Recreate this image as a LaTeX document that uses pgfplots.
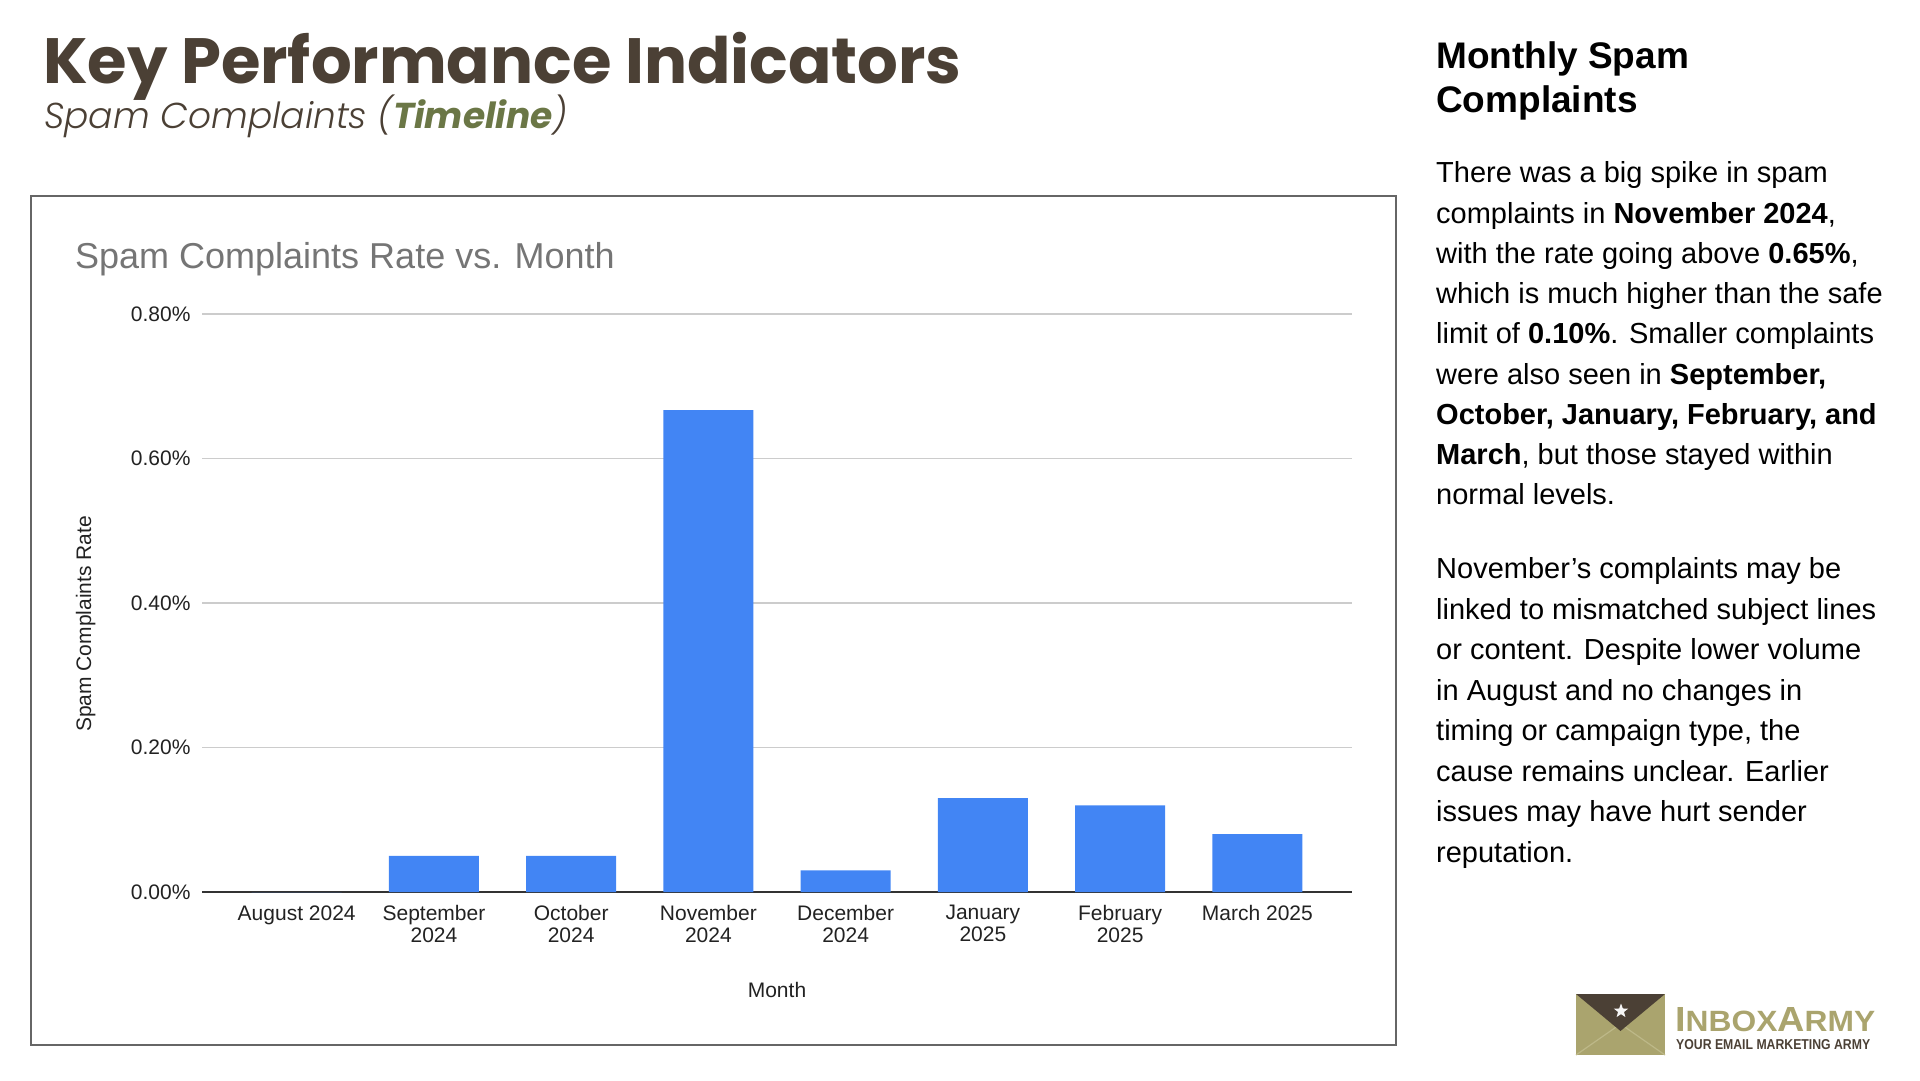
\documentclass[border=0pt]{standalone}
\usepackage{fontspec}
\setmainfont{Liberation Sans}
\newfontfamily\poppins{Poppins}
\newfontfamily\poppinslightit{Poppins Light Italic}
\usepackage{graphicx}
\usepackage{pgfplots}
\pgfplotsset{compat=1.18}
\usetikzlibrary{shapes.geometric}

\definecolor{kpibrown}{HTML}{4B4035}
\definecolor{kpiolive}{HTML}{6B7746}
\definecolor{barblue}{HTML}{4285F4}
\definecolor{gridgray}{HTML}{CCCCCC}
\definecolor{titlegray}{HTML}{757575}
\definecolor{boxgray}{HTML}{666666}
\definecolor{zeroline}{HTML}{333333}
\definecolor{ticktext}{HTML}{222222}
\definecolor{logoolive}{HTML}{AAA46E}
\definecolor{logolight}{HTML}{BDB888}

\newcommand\fs[1]{\fontsize{#1}{#1}\selectfont}

\begin{document}
\begin{tikzpicture}
\path[use as bounding box] (0pt,0pt) rectangle (1920pt,1080pt);

% headline
\node[anchor=base west, inner sep=0, kpibrown] at (43pt,996pt)
  {\poppins\bfseries\fs{64}Key Performance Indicators};
\node[anchor=base west, inner sep=0, kpibrown] at (44pt,951pt)
  {\poppinslightit\fs{36}Spam Complaints (\textcolor{kpiolive}{\poppins\bfseries\itshape Timeline})};

% chart frame
\draw[boxgray, line width=2.5pt] (31pt,884pt) rectangle (1396pt,35pt);
\node[anchor=base west, inner sep=0, titlegray] at (75pt,811pt)
  {\fs{36}Spam Complaints Rate vs. Month};

\begin{axis}[
  at={(202pt,188pt)}, anchor=south west,
  scale only axis, width=1150pt, height=578pt,
  xmin=-0.69, xmax=7.69, ymin=0, ymax=0.8,
  axis line style={draw=none},
  major tick length=0pt,
  ytick={0,0.2,0.4,0.6,0.8},
  yticklabels={0.00\%,0.20\%,0.40\%,0.60\%,0.80\%},
  xtick={0,1,2,3,4,5,6,7},
  xticklabels={August 2024,September\\2024,October\\2024,November\\2024,December\\2024,January\\2025,February\\2025,March 2025},
  ymajorgrids,
  major grid style={gridgray, line width=1.5pt},
  yticklabel style={font=\fs{21}, color=ticktext, xshift=-8pt},
  xticklabel style={font=\fontsize{21}{22}\selectfont, color=ticktext, align=center, yshift=-10pt},
  clip=false,
]
\draw[zeroline, line width=2pt] (rel axis cs:0,0) -- (rel axis cs:1,0);
\addplot[ybar, bar width=90pt, fill=barblue, draw=none] coordinates {
  (0,0) (1,0.05) (2,0.05) (3,0.667) (4,0.03) (5,0.13) (6,0.12) (7,0.08)
};
\end{axis}

\node[anchor=base, inner sep=0, ticktext] at (777pt,83pt) {\fs{21}Month};
\node[anchor=base, inner sep=0, ticktext, rotate=90] at (91pt,456pt) {\fs{21}Spam Complaints Rate};

% right panel
\node[anchor=base west, inner sep=0] at (1436pt,1011pt) {\fs{37}\bfseries Monthly Spam};
\node[anchor=base west, inner sep=0] at (1436pt,967pt) {\fs{37}\bfseries Complaints};

\begin{scope}[every node/.style={anchor=base west, inner sep=0, font=\fs{29}}]
\node at (1436pt,897pt) {There was a big spike in spam};
\node at (1436pt,856.7pt) {complaints in \textbf{November 2024},};
\node at (1436pt,816.5pt) {with the rate going above \textbf{0.65\%},};
\node at (1436pt,776.2pt) {which is much higher than the safe};
\node at (1436pt,736pt) {limit of \textbf{0.10\%}. Smaller complaints};
\node at (1436pt,695.7pt) {were also seen in \textbf{September,}};
\node at (1436pt,655.5pt) {\textbf{October, January, February, and}};
\node at (1436pt,615.2pt) {\textbf{March}, but those stayed within};
\node at (1436pt,575pt) {normal levels.};

\node at (1436pt,501pt) {November’s complaints may be};
\node at (1436pt,460.6pt) {linked to mismatched subject lines};
\node at (1436pt,420.1pt) {or content. Despite lower volume};
\node at (1436pt,379.7pt) {in August and no changes in};
\node at (1436pt,339.3pt) {timing or campaign type, the};
\node at (1436pt,298.9pt) {cause remains unclear. Earlier};
\node at (1436pt,258.4pt) {issues may have hurt sender};
\node at (1436pt,218pt) {reputation.};
\end{scope}

% logo
\fill[logoolive] (1576pt,25pt) rectangle (1665pt,86pt);
\draw[logolight, line width=1.2pt] (1576pt,25pt) -- (1620.5pt,56pt) -- (1665pt,25pt);
\fill[kpibrown] (1576pt,86pt) -- (1665pt,86pt) -- (1620.5pt,49pt) -- cycle;
\node[star, star points=5, star point ratio=2.4, fill=white!92!gray, inner sep=0, minimum size=15pt] at (1621pt,69pt) {};
\node[anchor=base west, inner sep=0, logoolive] at (1675pt,49pt)
  {\resizebox{200pt}{24pt}{\bfseries\fs{10}I\fs{8.4}NBOX\fs{10}A\fs{8.4}RMY}};
\node[anchor=base west, inner sep=0, kpibrown] at (1676pt,31pt)
  {\resizebox{194pt}{10pt}{\bfseries YOUR EMAIL MARKETING ARMY}};
\end{tikzpicture}
\end{document}
